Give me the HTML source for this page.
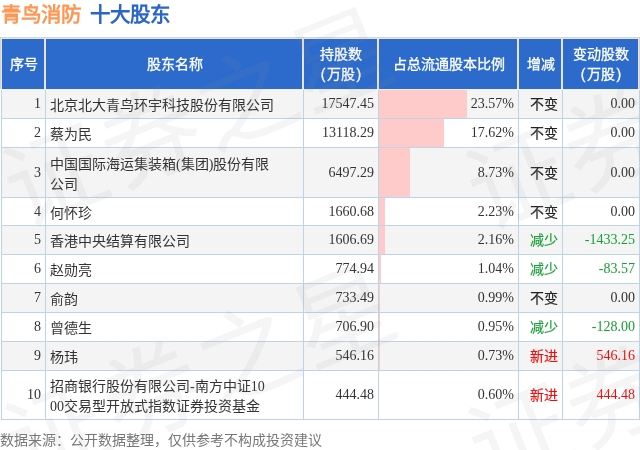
<!DOCTYPE html>
<html lang="zh-CN"><head><meta charset="utf-8">
<style>
html,body{margin:0;padding:0;background:#fff;width:640px;height:450px;overflow:hidden;position:relative}
body{font-family:"Liberation Sans",sans-serif;}
.title{will-change:transform;position:absolute;left:1px;top:0;height:30px;font-size:20.5px;font-weight:bold;line-height:29px;white-space:nowrap}
.title .a{color:#fe9754}
.title .b{color:#2a66c9;margin-left:9px}
table{will-change:transform;position:absolute;left:1px;top:37px;border-collapse:collapse;width:639px;table-layout:fixed}
td,th{font-family:"Liberation Serif",serif;border:1px solid #bcd3ea;padding:4px 4px 4px 4px;font-size:14px;color:#333;line-height:20px;height:20px}
th{font-family:"Liberation Sans",sans-serif;background:#2c6acc;color:#fff;font-weight:normal;border-color:#e8e4dc;border-bottom-color:#eef2f7;line-height:20px;-webkit-text-stroke:0.3px #fff}
.p1{margin-right:1px}.p2{margin-left:2px}
tr.o td{background:#f4f4f4}
td.n{font-family:"Liberation Serif",serif;text-align:right;font-size:14px;padding-right:4px}
td.f{padding-right:4px}
td.c{text-align:right;padding-top:5px;padding-bottom:3px;color:#222;-webkit-text-stroke:0.15px currentColor}
tr.r4 td{padding-bottom:3px}
tr.r4 td.c{padding-bottom:2px}
td.up{color:#f50a0a}
td.dn{color:#15a035}
.t{position:relative;top:2px}
.bar{position:relative}
.bar i{position:absolute;left:0;top:0;bottom:0;background:#fecaca}
.bar span{position:relative}
.wm{position:absolute;left:0;top:0;pointer-events:none}
.hl{position:absolute;left:0;top:0}
.foot{will-change:transform;position:absolute;left:0;top:430px;font-size:14px;line-height:20px;color:#777;white-space:nowrap}
</style></head>
<body>
<div class="title"><span class="a">青鸟消防</span><span class="b">十大股东</span></div>
<table>
<colgroup><col style="width:44px"><col style="width:258px"><col style="width:75px"><col style="width:140px"><col style="width:44px"><col style="width:77px"></colgroup>
<tr style="height:52px"><th>序号</th><th>股东名称</th><th>持股数<br><span class="p1">(</span>万股<span class="p2">)</span></th><th>占总流通股本比例</th><th>增减</th><th>变动股数<br><span class="p1">(</span>万股<span class="p2">)</span></th></tr>
<tr class="o"><td class="n f">1</td><td><span class="t">北京北大青鸟环宇科技股份有限公司</span></td><td class="n">17547.45</td><td class="n bar"><i style="width:87.5px"></i><span>23.57%</span></td><td class="c">不变</td><td class="n">0.00</td></tr>
<tr><td class="n f">2</td><td><span class="t">蔡为民</span></td><td class="n">13118.29</td><td class="n bar"><i style="width:64.8px"></i><span>17.62%</span></td><td class="c">不变</td><td class="n">0.00</td></tr>
<tr class="o" style="height:50px"><td class="n f">3</td><td><span class="t">中国国际海运集装箱(集团)股份有限<br>公司</span></td><td class="n">6497.29</td><td class="n bar"><i style="width:30.8px"></i><span>8.73%</span></td><td class="c">不变</td><td class="n">0.00</td></tr>
<tr class="r4"><td class="n f">4</td><td><span class="t">何怀珍</span></td><td class="n">1660.68</td><td class="n bar"><i style="width:6.0px"></i><span>2.23%</span></td><td class="c">不变</td><td class="n">0.00</td></tr>
<tr class="o"><td class="n f">5</td><td><span class="t">香港中央结算有限公司</span></td><td class="n">1606.69</td><td class="n bar"><i style="width:5.8px"></i><span>2.16%</span></td><td class="c dn">减少</td><td class="n dn">-1433.25</td></tr>
<tr><td class="n f">6</td><td><span class="t">赵勋亮</span></td><td class="n">774.94</td><td class="n bar"><i style="width:1.5px"></i><span>1.04%</span></td><td class="c dn">减少</td><td class="n dn">-83.57</td></tr>
<tr class="o"><td class="n f">7</td><td><span class="t">俞韵</span></td><td class="n">733.49</td><td class="n bar"><i style="width:1.3px"></i><span>0.99%</span></td><td class="c">不变</td><td class="n">0.00</td></tr>
<tr><td class="n f">8</td><td><span class="t">曾德生</span></td><td class="n">706.90</td><td class="n bar"><i style="width:1.1px"></i><span>0.95%</span></td><td class="c dn">减少</td><td class="n dn">-128.00</td></tr>
<tr class="o"><td class="n f">9</td><td><span class="t">杨玮</span></td><td class="n">546.16</td><td class="n bar"><i style="width:0.3px"></i><span>0.73%</span></td><td class="c up">新进</td><td class="n up">546.16</td></tr>
<tr><td class="n f">10</td><td><span class="t">招商银行股份有限公司-南方中证10<br>00交易型开放式指数证券投资基金</span></td><td class="n">444.48</td><td class="n bar"><i style="width:0.0px"></i><span>0.60%</span></td><td class="c up">新进</td><td class="n up">444.48</td></tr>
</table>
<svg class="hl" width="640" height="90" shape-rendering="crispEdges">
<rect x="0" y="37" width="640" height="1" fill="#d5d5d5"/>
<rect x="0" y="37" width="1" height="52" fill="#d5d5d5"/>
<rect x="639" y="37" width="1" height="52" fill="#d5d5d5"/>
<rect x="1" y="38" width="638" height="1" fill="#e8e4dc"/>
<rect x="1" y="38" width="1" height="51" fill="#e8e4dc"/>
<rect x="638" y="38" width="1" height="51" fill="#e8e4dc"/>
<rect x="44" y="38" width="2" height="51" fill="#e8e4dc"/>
<rect x="302" y="38" width="2" height="51" fill="#e8e4dc"/>
<rect x="377" y="38" width="2" height="51" fill="#e8e4dc"/>
<rect x="517" y="38" width="2" height="51" fill="#e8e4dc"/>
<rect x="561" y="38" width="2" height="51" fill="#e8e4dc"/>
</svg>
<div class="foot">数据来源：公开数据整理，仅供参考不构成投资建议</div>
<svg class="wm" width="640" height="450" viewBox="0 0 640 450">
<g fill="#9a9a9a" fill-opacity="0.095" font-size="100" letter-spacing="3" font-family="Liberation Sans, sans-serif">
<text transform="translate(22,228) rotate(-22)">证券之星</text>
<text transform="translate(485,231) rotate(-22)">证券之星</text>
<text transform="translate(24,484) rotate(-22)">证券之星</text>
<text transform="translate(487,488) rotate(-22)">证券之星</text>
</g></svg>
</body></html>
